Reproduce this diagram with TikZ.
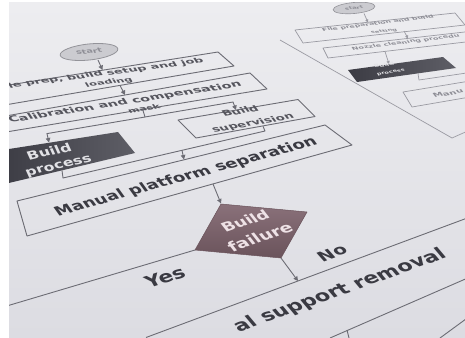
\documentclass[tikz,border=0pt]{standalone}
\usepackage{fontspec}
\setmainfont{DejaVu Sans}
\usepackage{graphicx}
\usetikzlibrary{arrows.meta}
\definecolor{bgtop}{HTML}{EDEDF0}
\definecolor{bgbot}{HTML}{DCDCE2}
\definecolor{linec}{HTML}{6C6C74}
\definecolor{linef}{HTML}{9A9AA2}
\definecolor{textc}{HTML}{3A3A42}
\definecolor{textm}{HTML}{55555D}
\definecolor{textf}{HTML}{8E8E96}
\definecolor{ellf}{HTML}{CBCBD0}
\definecolor{ellb}{HTML}{939399}
\definecolor{bpl}{HTML}{3C3C44}
\definecolor{bpr}{HTML}{5E5E66}
\definecolor{diat}{HTML}{8A717A}
\definecolor{diab}{HTML}{6A535B}
\definecolor{wtext}{HTML}{E2E2E6}
\definecolor{dtext}{HTML}{EEE2E6}
\newcommand{\wt}[2]{\resizebox{#1pt}{!}{\bfseries #2}}
\begin{document}
\begin{tikzpicture}[x=1pt,y=-1pt,
  edge/.style={draw=linec,line width=0.9pt,line join=round},
  fedge/.style={draw=linef,line width=0.7pt,line join=round},
  arr/.style={draw=linec,line width=0.9pt,-{Triangle[width=4.5pt,length=4.5pt]}},
  farr/.style={draw=linef,line width=0.7pt,-{Triangle[width=3pt,length=3pt]}},
  lbl/.style={inner sep=0pt,text=textc}]
\useasboundingbox (0,0) rectangle (465,337);
\fill[white] (0,0) rectangle (465,337);
\shade[top color=bgtop,bottom color=bgbot] (9,3) rectangle (465,337);
\begin{scope}
\clip (9,3) rectangle (465,337);
% ---------- far (right) chart ----------
\draw[fedge] (280,40) -- (452,138) -- (470,130);
\filldraw[fill=ellf,draw=ellb,line width=0.6pt,rotate around={5:(354,8)}] (354,8) ellipse [x radius=21,y radius=5.5];
\node[lbl,text=textf,rotate=5,xslant=-0.4,yscale=0.6] (rstart) at (354,8) {\wt{18}{start}};
\draw[farr] (364,13.5) -- (368,22.5);
\draw[fedge] (295,30) -- (455,13) -- (465,25) -- (303,43) -- cycle;
\node[lbl,text=textf,rotate=7,xslant=-0.5,yscale=0.55] (r1a) at (378,23.5) {\wt{112}{File preparation and build}};
\node[lbl,text=textf,rotate=7,xslant=-0.5,yscale=0.55] (r1b) at (384,31.5) {\wt{26}{setting}};
\draw[farr] (404,31) -- (408,38.5);
\draw[fedge] (470,31.4) -- (323,48) -- (328,58) -- (470,41.5);
\node[lbl,text=textf,rotate=7,xslant=-0.5,yscale=0.55,anchor=west] (r2) at (352,49) {\wt{108}{Nozzle cleaning procedu}};
\draw[farr] (385,51.5) -- (389,64);
\shade[left color=bpl,right color=bpr] (348,70) -- (443,57) -- (456,68) -- (357,82) -- cycle;
\node[lbl,text=wtext,rotate=8,xslant=-0.4,yscale=0.6] (r3a) at (384,65) {\wt{20}{Build}};
\node[lbl,text=wtext,rotate=8,xslant=-0.4,yscale=0.6] (r3b) at (391,72.5) {\wt{28}{process}};
\draw[fedge] (418,73.5) -- (419,80) -- (470,72.5);
\draw[fedge] (470,81) -- (403,92) -- (412,107) -- (470,97);
\node[lbl,text=textf,rotate=10,xslant=-0.5,yscale=0.6,anchor=west] (r4) at (433,96) {\wt{30}{Manu}};
% ---------- near (left) chart ----------
\filldraw[fill=ellf,draw=ellb,line width=0.8pt,rotate around={6:(89,52)}] (89,52) ellipse [x radius=29,y radius=8];
\node[lbl,text=textf,rotate=5,xslant=-0.3,yscale=0.65] (start) at (89,51.5) {\wt{26}{start}};
\draw[arr] (98,60) -- (102.5,70);
\draw[edge] (0,86.4) -- (218,52) -- (234,66) -- (0,105.8);
\node[lbl,text=textm,rotate=7.5,xslant=-0.45,yscale=0.55] (t1) at (106,73.5) {\wt{196}{le prep, build setup and job}};
\node[lbl,text=textm,rotate=7.5,xslant=-0.45,yscale=0.55] (t2) at (109,82.5) {\wt{47}{loading}};
\draw[arr] (120,85.4) -- (125,95);
\draw[edge] (0,117) -- (250,73) -- (267,89) -- (0,133);
\node[lbl,text=textm,rotate=9,xslant=-0.45,yscale=0.6] (t3) at (125,102.5) {\wt{235}{Calibration and compensation}};
\node[lbl,text=textm,rotate=9,xslant=-0.45,yscale=0.6] (t4) at (144,108.5) {\wt{32}{mask}};
\draw[edge] (143,110.5) -- (145,117);
\draw[arr] (145,117) -- (47,133.6) -- (49,142.5);
\draw[arr] (145,117) -- (233,102) -- (236,110);
\draw[edge] (178,120) -- (298,99.5) -- (315,116.5) -- (196,138) -- cycle;
\node[lbl,text=textm,rotate=10,xslant=-0.5,yscale=0.65] (t5) at (240,111) {\wt{36}{Build}};
\node[lbl,text=textm,rotate=10,xslant=-0.5,yscale=0.65] (t6) at (253,123.5) {\wt{82}{supervision}};
\shade[left color=bpl,right color=bpr] (0,150.4) -- (118,132) -- (135,153) -- (0,185.1) -- cycle;
\node[lbl,text=wtext,rotate=13,xslant=-0.2,yscale=0.75] (t7) at (49,151.5) {\wt{45}{Build}};
\node[lbl,text=wtext,rotate=13,xslant=-0.2,yscale=0.75] (t8) at (59,167) {\wt{67}{process}};
\draw[edge] (62,170.4) -- (63,178) -- (265,131) -- (263,126.3);
\draw[arr] (182,150.3) -- (184,159.5);
\draw[edge] (17,201) -- (325,125) -- (352,145) -- (27,236) -- cycle;
\node[lbl,rotate=15.4,xslant=-0.37,yscale=0.78] (t9) at (186,177) {\wt{270}{Manual platform separation}};
\draw[arr] (213,184) -- (221,203.5);
\shade[top color=diat,bottom color=diab] (221,204) -- (307,212) -- (281,258) -- (195,250) -- cycle;
\draw[draw=diab,line width=0.5pt] (221,204) -- (307,212) -- (281,258) -- (195,250) -- cycle;
\node[lbl,text=dtext,rotate=19,xslant=-0.35,yscale=0.8] (t10) at (245,221) {\wt{48}{Build}};
\node[lbl,text=dtext,rotate=19,xslant=-0.35,yscale=0.8] (t11) at (260,237) {\wt{66}{failure}};
\draw[edge] (195,250) -- (0,308);
\draw[arr] (281,258) -- (298,281);
\node[lbl,rotate=18,xslant=-0.2,yscale=0.8] (yes) at (165,277) {\wt{40}{Yes}};
\node[lbl,rotate=20,xslant=-0.4,yscale=0.8] (no) at (332,253) {\wt{28}{No}};
\draw[edge] (146,337.5) -- (470,217);
\draw[edge] (330,338) -- (470,277);
\draw[edge] (347,330) -- (349,338);
\draw[edge] (440,338) -- (470,316);
\node[lbl,rotate=19.8,xslant=-0.37,yscale=0.82] (t12) at (340,291) {\wt{222}{al support removal}};
\end{scope}
\end{tikzpicture}
\end{document}
